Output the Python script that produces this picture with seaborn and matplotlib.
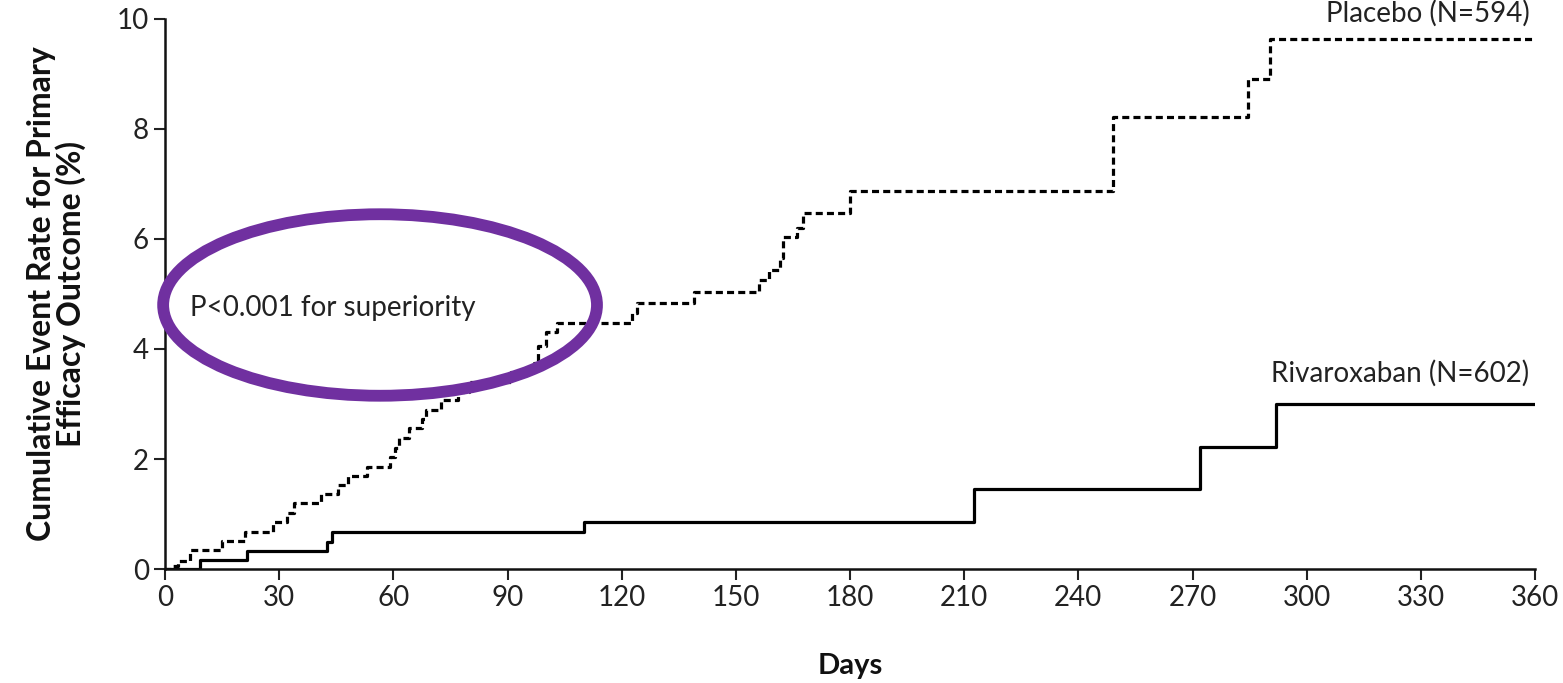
import pandas as pd
import seaborn as sns
import matplotlib.pyplot as plt
from matplotlib.patches import Ellipse

# Step curves (day, cumulative %)
placebo_days = [0, 1.5, 3.5, 6.6, 15, 21, 28.4, 32, 34, 41, 45.5, 48, 53, 59, 60.5, 61.5,
                64, 67.5, 68.5, 72.5, 77, 80, 91, 97, 98, 100, 103, 122.7, 124, 139,
                156, 158.6, 161.6, 162.5, 166, 167.6, 180, 249, 284.6, 290.3, 360]
placebo_rate = [0, 0.05, 0.15, 0.35, 0.51, 0.68, 0.86, 1.02, 1.2, 1.36, 1.53, 1.69, 1.86, 2.04, 2.2, 2.38,
                2.56, 2.72, 2.9, 3.07, 3.22, 3.4, 3.58, 3.75, 4.05, 4.3, 4.47, 4.65, 4.84, 5.04,
                5.25, 5.44, 5.65, 6.04, 6.2, 6.47, 6.88, 8.22, 8.9, 9.63, 9.63]

rivaroxaban_days = [0, 9.3, 21.5, 42.5, 44, 110, 212.6, 272, 292, 360]
rivaroxaban_rate = [0, 0.17, 0.33, 0.5, 0.67, 0.85, 1.45, 2.22, 3.0, 3.0]

arm_labels = ["Placebo (N=594)", "Rivaroxaban (N=602)"]
annotation = "P<0.001 for superiority"

df = pd.concat([
    pd.DataFrame({"day": placebo_days, "rate": placebo_rate, "arm": "Placebo"}),
    pd.DataFrame({"day": rivaroxaban_days, "rate": rivaroxaban_rate, "arm": "Rivaroxaban"}),
])

sns.set_theme(style="ticks")
plt.rcParams["font.family"] = ["Lato", "DejaVu Sans"]

fig = plt.figure(figsize=(15.63, 6.83), dpi=100)
ax = fig.add_axes([0.1056, 0.1669, 0.8765, 0.8053])

sns.lineplot(data=df, x="day", y="rate", style="arm", color="black",
             dashes={"Placebo": (2.2, 1.3), "Rivaroxaban": ""},
             estimator=None, drawstyle="steps-post", linewidth=2.3,
             legend=False, ax=ax)

ax.set_xlim(0, 360)
ax.set_ylim(0, 10)
ax.set_xticks(range(0, 361, 30))
ax.set_yticks(range(0, 11, 2))
ax.tick_params(axis="both", labelsize=20, length=8, width=1.5, colors="#222222")
for s in ["left", "bottom"]:
    ax.spines[s].set_linewidth(1.8)
    ax.spines[s].set_color("#111111")
sns.despine(ax=ax)

ax.set_xlabel("Days", fontsize=21, fontweight="bold", labelpad=30, color="#111111")
ax.set_ylabel("Cumulative Event Rate for Primary\nEfficacy Outcome (%)", fontsize=23,
              fontweight="bold", labelpad=22, color="#111111", linespacing=1.0)

# curve labels
ax.text(358.5, 10.1, arm_labels[0], ha="right", va="center", fontsize=20,
        color="#222222", clip_on=False)
ax.text(358.5, 3.55, arm_labels[1], ha="right", va="center", fontsize=20, color="#222222")

# highlighted p-value
ax.text(6.5, 4.75, annotation, ha="left", va="center", fontsize=20, color="#222222")
ax.add_patch(Ellipse((56.5, 4.8), 114, 3.3, fill=False, edgecolor="#7030A0",
                     linewidth=8.5, clip_on=False, zorder=5))

plt.savefig("out.png", dpi=100)
plt.close()
